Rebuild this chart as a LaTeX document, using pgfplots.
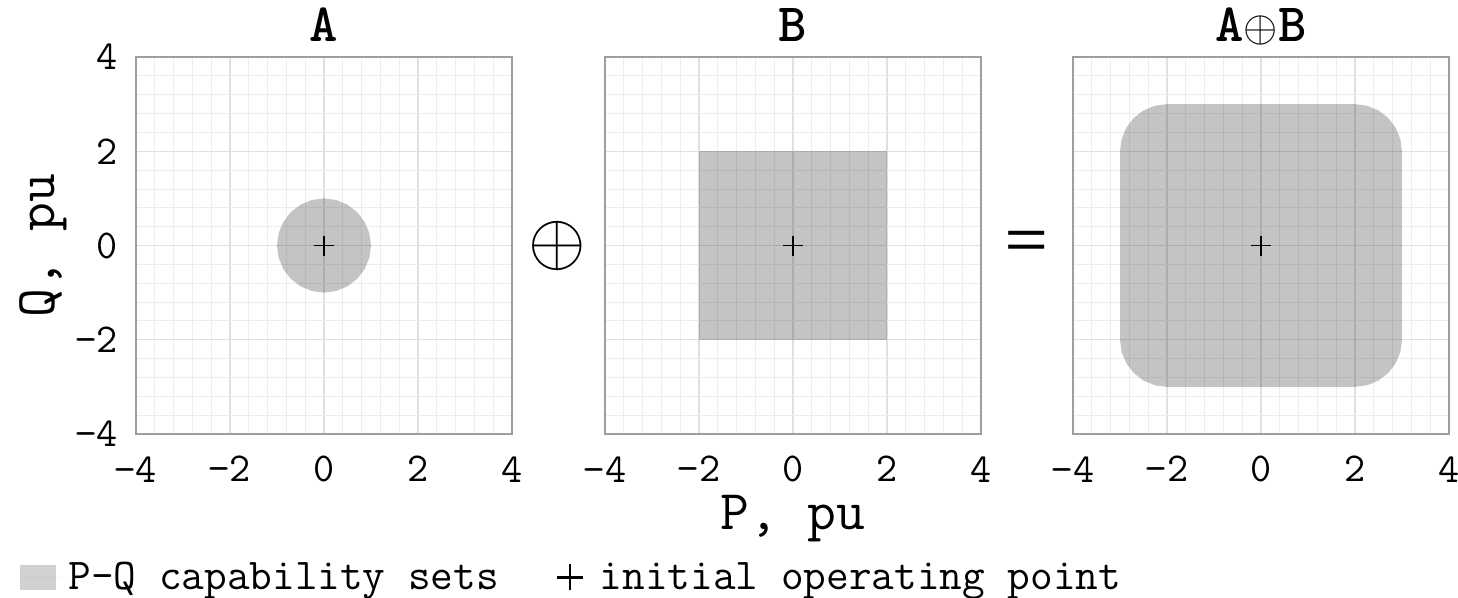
\RequirePackage{fix-cm}
\documentclass[border=0pt]{standalone}
\usepackage{graphicx}
\usepackage{pgfplots}
\pgfplotsset{compat=1.18}
\usepackage{fontspec}
\setmainfont{Liberation Mono}
\newfontfamily\eqfont{Liberation Mono}
\begin{document}
\begin{tikzpicture}
\path[use as bounding box] (0,0) rectangle (729pt,-299pt);
\pgfplotsset{
  panel/.style={
    scale only axis, width=188pt, height=188.5pt,
    xmin=-4,xmax=4,ymin=-4,ymax=4,
    xtick={-4,-2,0,2,4}, ytick={-4,-2,0,2,4},
    xticklabels={−4,−2,0,2,4},
    yticklabels={−4,−2,0,2,4},
    minor tick num=4,
    grid=both,
    major grid style={draw=black!12, line width=0.6pt},
    minor grid style={draw=black!7, line width=0.45pt},
    major tick length=0pt, minor tick length=0pt,
    axis line style={draw=black!38, line width=0.75pt},
    tick label style={font=\ttfamily\fontsize{20.5}{22}\selectfont, inner sep=0pt},
    xticklabel style={anchor=north},
    yticklabel style={anchor=east},
    xticklabel shift=11pt,
    yticklabel shift=9pt,
    title style={font=\ttfamily\bfseries\fontsize{27}{30}\selectfont, at={(0.5,1)}, anchor=base, yshift=2pt, inner sep=0pt},
    label style={font=\ttfamily\fontsize{28}{30}\selectfont, inner sep=0pt},
    anchor=south west,
  },
  set/.style={fill=black, fill opacity=0.23, draw=none,
    legend image code/.code={\fill[black, fill opacity=0.18] (0pt,-6.25pt) rectangle (18pt,6.25pt);
      \path[draw=none] (0pt,0pt) -- (22pt,0pt);}},
  pt/.style={only marks, mark=+, mark size=5pt, black, mark options={line width=0.65pt},
    legend image code/.code={\path[draw=none] (0pt,0pt) -- (21pt,0pt);
      \draw[black, line width=1.1pt] (1.5pt,0pt) -- (14.5pt,0pt) (8pt,-6.5pt) -- (8pt,6.5pt);}},
}
% Panel A
\begin{axis}[panel, at={(68pt,-217pt)}, title={A},
  ylabel={Q, pu},
  ylabel style={at={(axis description cs:-0.218,0.5)}, anchor=base},
  legend columns=2,
  legend style={at={(axis description cs:-0.3085,-0.3806)}, anchor=west, draw=none, fill=none,
    inner sep=0pt, font=\ttfamily\fontsize{22}{24}\selectfont,
    /tikz/every even column/.append style={column sep=25.5pt}},
  legend cell align=left]
\addplot[set] coordinates {
(1,0) (0.9659,0.2588) (0.8660,0.5) (0.7071,0.7071) (0.5,0.8660) (0.2588,0.9659)
(0,1) (-0.2588,0.9659) (-0.5,0.8660) (-0.7071,0.7071) (-0.8660,0.5) (-0.9659,0.2588)
(-1,0) (-0.9659,-0.2588) (-0.8660,-0.5) (-0.7071,-0.7071) (-0.5,-0.8660) (-0.2588,-0.9659)
(0,-1) (0.2588,-0.9659) (0.5,-0.8660) (0.7071,-0.7071) (0.8660,-0.5) (0.9659,-0.2588)};
\addlegendentry{P-Q capability sets}
\addplot[pt] coordinates {(0,0)};
\addlegendentry{initial operating point}
\end{axis}
% Panel B
\begin{axis}[panel, at={(302.5pt,-217pt)}, title={B}, yticklabel=\empty,
  xlabel={P, pu},
  xlabel style={at={(axis description cs:0.5,-0.2546)}, anchor=base}]
\addplot[set] coordinates {(-2,-2) (2,-2) (2,2) (-2,2)};
\addplot[pt] coordinates {(0,0)};
\end{axis}
% Panel C
\begin{axis}[panel, at={(536.5pt,-217pt)}, title={A{\mdseries\fontsize{22}{24}\selectfont$\oplus$}B}, yticklabel=\empty]
\addplot[set] coordinates {
(3,-2) (3,2) (2.9659,2.2588) (2.8660,2.5) (2.7071,2.7071) (2.5,2.8660) (2.2588,2.9659) (2,3)
(-2,3) (-2.2588,2.9659) (-2.5,2.8660) (-2.7071,2.7071) (-2.8660,2.5) (-2.9659,2.2588) (-3,2)
(-3,-2) (-2.9659,-2.2588) (-2.8660,-2.5) (-2.7071,-2.7071) (-2.5,-2.8660) (-2.2588,-2.9659) (-2,-3)
(2,-3) (2.2588,-2.9659) (2.5,-2.8660) (2.7071,-2.7071) (2.8660,-2.5) (2.9659,-2.2588)};
\addplot[pt] coordinates {(0,0)};
\end{axis}
\node[font=\fontsize{37}{40}\selectfont, inner sep=0pt] at (278.5pt,-123pt) {$\oplus$};
\node[font=\eqfont\fontsize{37}{40}\selectfont, inner sep=0pt] at (513.5pt,-122.5pt) {\scalebox{1}[0.75]{=}};
\end{tikzpicture}
\end{document}
